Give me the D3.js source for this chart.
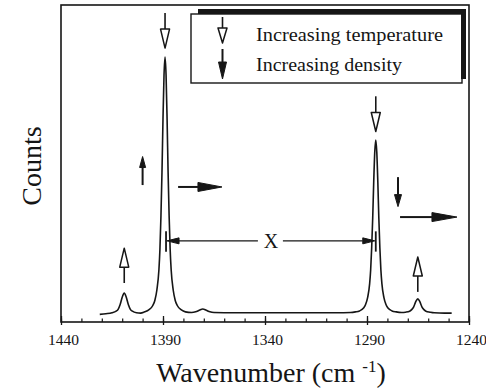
<!DOCTYPE html>
<html>
<head>
<meta charset="utf-8">
<script src="https://cdn.jsdelivr.net/npm/d3@7"></script>
<style>
  html, body { margin: 0; padding: 0; background: #fff; }
  svg { display: block; }
  text { font-family: "Liberation Serif", "DejaVu Serif", serif; fill: #151515; }
</style>
</head>
<body>
<svg id="chart" width="486" height="389"></svg>
<script>
// Raman spectrum: wavenumber (cm-1) and detector counts (arbitrary units)
const wavenumbers = [
  1421, 1418, 1415, 1413, 1412, 1411, 1410, 1409, 1408, 1407, 1406, 1405, 1403, 1401,
  1399, 1397, 1395, 1394, 1393, 1392, 1391.5, 1391, 1390.5, 1390, 1389.5, 1389,
  1388.5, 1388, 1387.5, 1387, 1386.5, 1386, 1385, 1384, 1383, 1381, 1379,
  1376, 1374, 1372.2, 1370.5, 1368.8, 1367, 1365,
  1355, 1340, 1320, 1305, 1298,
  1295.7, 1293.7, 1291.7, 1290.7, 1289.7, 1288.7, 1288.2, 1287.7, 1287.2, 1286.7, 1286.2, 1285.7,
  1285.2, 1284.7, 1284.2, 1283.7, 1283.2, 1282.7, 1281.7, 1280.7, 1279.7, 1277.7, 1275.7,
  1273.1, 1271.1, 1269.1, 1268.1, 1267.1, 1266.1, 1265.1, 1264.1, 1263.1, 1262.1, 1261.1, 1259.1, 1257.1,
  1252, 1248.5
];
const counts = [
  24, 26, 29, 34, 40, 55, 78, 91, 78, 55, 40, 34, 29, 28,
  32, 38, 52, 68, 101, 165, 230, 335, 472, 642, 779, 836,
  779, 642, 472, 335, 230, 165, 101, 68, 52, 38, 32,
  30, 32, 37, 41, 37, 32, 30,
  29, 29, 29, 29, 30,
  32, 35, 44, 55, 77, 121, 165, 235, 328, 443, 536, 574,
  536, 443, 328, 235, 165, 121, 77, 55, 44, 35, 32,
  30, 31, 34, 39, 48, 64, 73, 64, 48, 39, 34, 31, 29,
  28, 28
];

// Band centres (cm-1) and their peak counts, used to anchor the annotations
const bandCentres = [1409, 1389, 1285.7, 1265.1];
const bandPeaks   = [91, 836, 574, 73];

const majorTicks = [1440, 1390, 1340, 1290, 1240];
const legendLabels = ["Increasing temperature", "Increasing density"];
const xTitle = "Wavenumber (cm";
const xTitleSup = "-1";
const yTitle = "Counts";
const spacingLabel = "X";

const ink = "#161616";
const svg = d3.select("#chart");

const x = d3.scaleLinear().domain([1440, 1240]).range([61, 469]);
const y = d3.scaleLinear().domain([0, 1000]).range([322, 5]);

// ---- frame ----
svg.append("rect")
  .attr("x", x.range()[0]).attr("y", y.range()[1])
  .attr("width", x.range()[1] - x.range()[0])
  .attr("height", y.range()[0] - y.range()[1])
  .attr("fill", "none").attr("stroke", ink).attr("stroke-width", 1.6);

// ---- bottom axis: minor ticks every 10, labelled majors every 50 ----
const minorAxis = svg.append("g")
  .attr("transform", `translate(0,${y.range()[0]})`)
  .call(d3.axisBottom(x).ticks(20).tickSize(-3.5).tickFormat(""));
minorAxis.select(".domain").remove();
minorAxis.selectAll("line").attr("stroke", ink).attr("stroke-width", 1.2);

const majorAxis = svg.append("g")
  .attr("transform", `translate(0,${y.range()[0]})`)
  .call(d3.axisBottom(x).tickValues(majorTicks).tickSize(-5).tickPadding(12).tickFormat(d3.format("d")));
majorAxis.select(".domain").remove();
majorAxis.selectAll("line").attr("stroke", ink).attr("stroke-width", 1.3).attr("y2", -6).attr("y1", 3);
majorAxis.selectAll("text")
  .attr("font-family", "'Liberation Serif', serif")
  .attr("font-size", 15.5).attr("fill", ink)
  .attr("dx", 2);

// ---- axis titles ----
const xt = svg.append("text")
  .attr("x", 271).attr("y", 382)
  .attr("text-anchor", "middle")
  .attr("font-size", 28);
xt.append("tspan").text(xTitle + " ");
xt.append("tspan").attr("font-size", 17).attr("dy", -10).text(xTitleSup);
xt.append("tspan").attr("dy", 10).text(")");

svg.append("text")
  .attr("transform", "translate(41,166) rotate(-90)")
  .attr("text-anchor", "middle")
  .attr("font-size", 28)
  .text(yTitle);

// ---- spectrum ----
const spectrum = wavenumbers.map((w, i) => ({ w, c: counts[i] }));
svg.append("path")
  .datum(spectrum)
  .attr("fill", "none")
  .attr("stroke", ink)
  .attr("stroke-width", 1.6)
  .attr("stroke-linejoin", "round")
  .attr("d", d3.line().x(d => x(d.w)).y(d => y(d.c)).curve(d3.curveMonotoneX));

// ---- arrows ----
function arrow(g, x1, y1, x2, y2, o) {
  const dx = x2 - x1, dy = y2 - y1, len = Math.hypot(dx, dy);
  const ux = dx / len, uy = dy / len, nx = -uy, ny = ux;
  const bx = x2 - ux * o.head, by = y2 - uy * o.head;
  g.append("line")
    .attr("x1", x1).attr("y1", y1).attr("x2", bx).attr("y2", by)
    .attr("stroke", ink).attr("stroke-width", o.shaft || 1.6);
  g.append("path")
    .attr("d", d3.line()([
      [x2, y2],
      [bx + nx * o.width / 2, by + ny * o.width / 2],
      [bx - nx * o.width / 2, by - ny * o.width / 2]
    ]) + "Z")
    .attr("fill", o.open ? "#fff" : ink)
    .attr("stroke", ink)
    .attr("stroke-width", o.open ? 1.5 : 1)
    .attr("stroke-linejoin", "round");
}

const ann = svg.append("g");
const openHead = { head: 19, width: 9, open: true };

// temperature: open arrows over each band
arrow(ann, x(bandCentres[1]), y(975), x(bandCentres[1]), y(864), openHead);
arrow(ann, x(bandCentres[2]), y(712), x(bandCentres[2]), y(601), openHead);
arrow(ann, x(bandCentres[0]), y(bandPeaks[0] + 32), x(bandCentres[0]), y(bandPeaks[0] + 142), openHead);
arrow(ann, x(bandCentres[3]), y(bandPeaks[3] + 22), x(bandCentres[3]), y(bandPeaks[3] + 132), openHead);

// density: filled arrows
arrow(ann, x(1400), y(432), x(1400), y(522), { head: 11, width: 6, shaft: 2 });
arrow(ann, x(1382.6), y(426), x(1361.1), y(426), { head: 24, width: 9, shaft: 2 });
arrow(ann, x(1274.8), y(457), x(1274.8), y(364), { head: 12, width: 7, shaft: 2 });
arrow(ann, x(1273.8), y(331), x(1245.9), y(331), { head: 25, width: 9, shaft: 2 });

// band separation X
const sepY = y(256);
const xl = x(bandCentres[1]) + 1, xr = x(bandCentres[2]);
const xm = (xl + xr) / 2;
[xl, xr].forEach(px => {
  ann.append("line")
    .attr("x1", px).attr("x2", px)
    .attr("y1", y(286)).attr("y2", y(222))
    .attr("stroke", ink).attr("stroke-width", 1.8);
});
arrow(ann, xm - 13, sepY, xl + 1, sepY, { head: 12, width: 6, shaft: 1.3 });
arrow(ann, xm + 12, sepY, xr - 1, sepY, { head: 12, width: 6, shaft: 1.3 });
ann.append("text")
  .attr("x", xm).attr("y", sepY + 7)
  .attr("text-anchor", "middle")
  .attr("font-size", 20)
  .text(spacingLabel);

// ---- legend ----
const lg = svg.append("g");
lg.append("rect")
  .attr("x", 191).attr("y", 14).attr("width", 271).attr("height", 69)
  .attr("fill", "#fff").attr("stroke", ink).attr("stroke-width", 1.4);
lg.append("path")
  .attr("d", "M198,11.5 H463.5 V79")
  .attr("fill", "none").attr("stroke", ink).attr("stroke-width", 5);
arrow(lg, 222.5, 17, 222.5, 43, { head: 15, width: 9, open: true });
arrow(lg, 222.5, 49, 222.5, 79, { head: 17, width: 8, shaft: 2 });
lg.selectAll("text.lab")
  .data(legendLabels)
  .join("text")
  .attr("class", "lab")
  .attr("x", 256)
  .attr("y", (d, i) => 40.5 + i * 30)
  .attr("font-size", 18)
  .attr("textLength", (d, i) => i === 0 ? 187 : 146)
  .attr("lengthAdjust", "spacingAndGlyphs")
  .text(d => d);
</script>
</body>
</html>
